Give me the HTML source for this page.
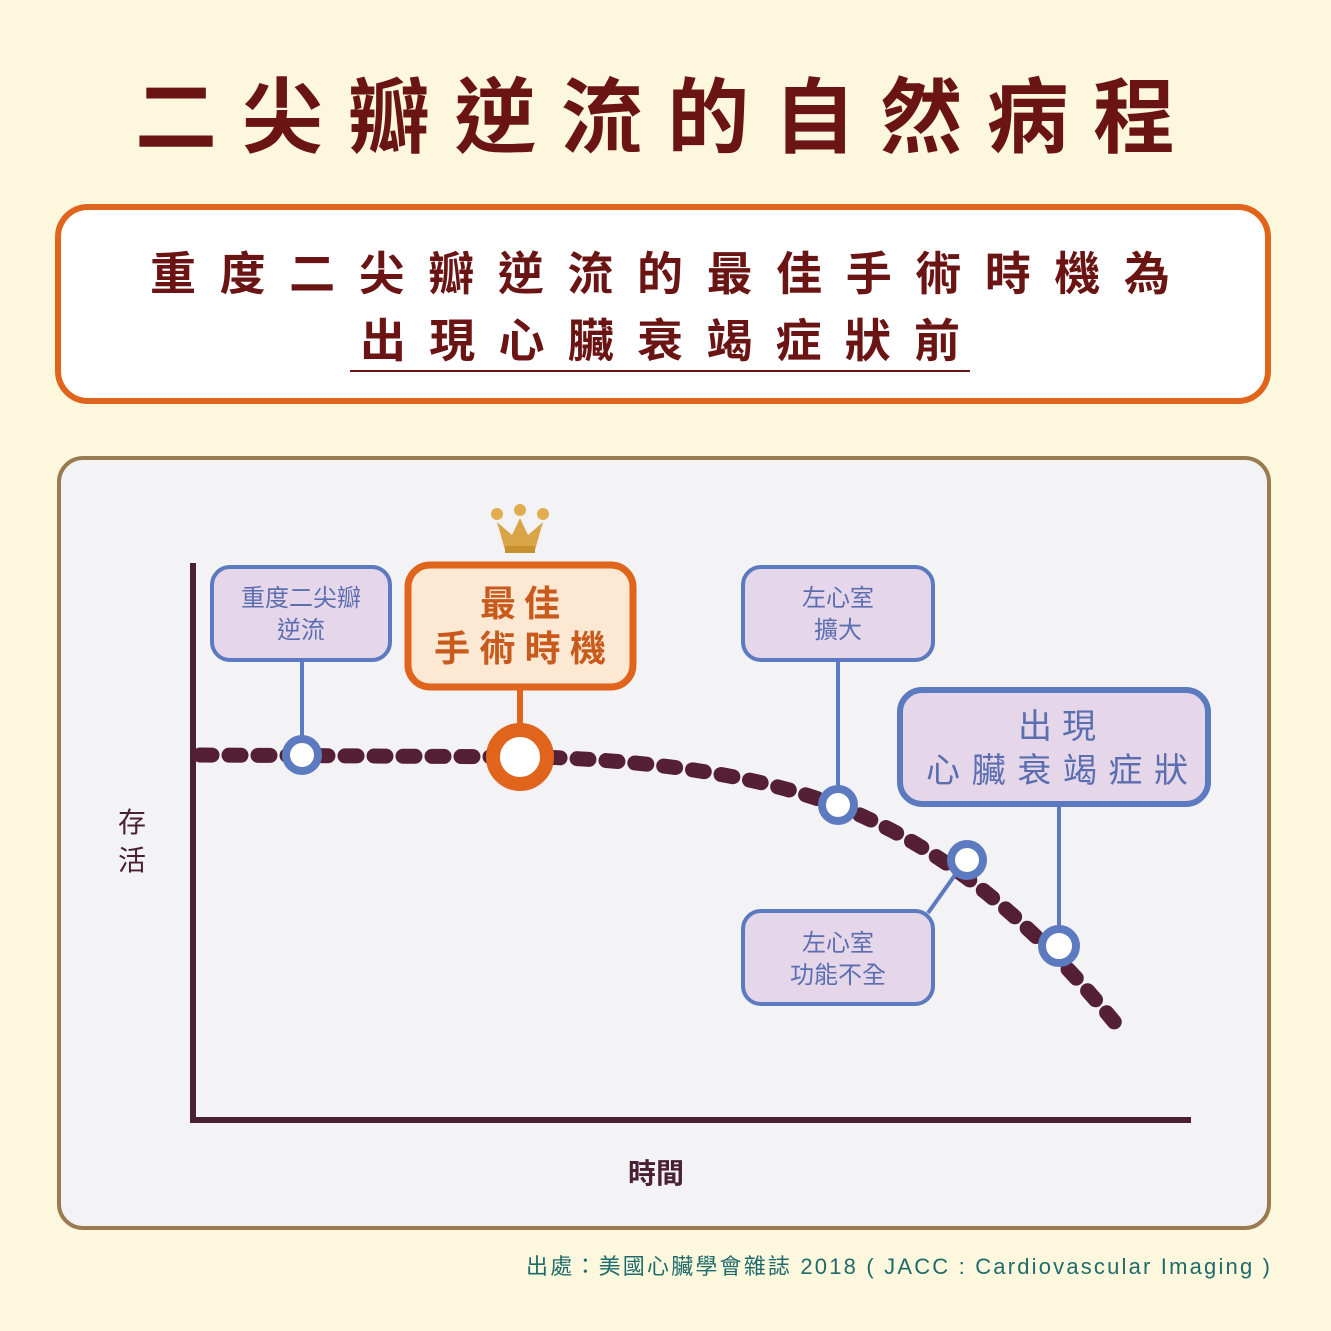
<!DOCTYPE html>
<html><head><meta charset="utf-8"><style>
html,body{margin:0;padding:0;background:#fdf7dd;}
svg{display:block}
text{font-family:"Liberation Sans","Noto Sans CJK TC",sans-serif;}
</style></head><body>
<svg width="1331" height="1331" viewBox="0 0 1331 1331" xmlns="http://www.w3.org/2000/svg">
<rect width="1331" height="1331" fill="#fdf7dd"/>
<text x="655" y="146" text-anchor="middle" font-size="82" font-weight="bold" fill="#6b1414" textLength="1040" lengthAdjust="spacing">二尖瓣逆流的自然病程</text>

<rect x="58" y="207" width="1210" height="194" rx="30" fill="#fff" stroke="#e0641c" stroke-width="6"/>
<text x="660" y="290" text-anchor="middle" font-size="46" font-weight="bold" fill="#6b1414" textLength="1020" lengthAdjust="spacing">重度二尖瓣逆流的最佳手術時機為</text>
<text x="660" y="357" text-anchor="middle" font-size="46" font-weight="bold" fill="#6b1414" textLength="600" lengthAdjust="spacing">出現心臟衰竭症狀前</text>
<line x1="350" y1="371" x2="970" y2="371" stroke="#6b1414" stroke-width="2"/>

<rect x="59" y="458" width="1210" height="770" rx="24" fill="#f3f3f5" stroke="#9a7a50" stroke-width="4"/>

<line x1="193" y1="563" x2="193" y2="1123" stroke="#4a2035" stroke-width="6"/>
<line x1="190" y1="1120" x2="1191" y2="1120" stroke="#4a2035" stroke-width="6"/>
<text x="132" y="832" text-anchor="middle" font-size="28" fill="#4a2035">存</text>
<text x="132" y="870" text-anchor="middle" font-size="28" fill="#4a2035">活</text>
<text x="656" y="1183" text-anchor="middle" font-size="28" font-weight="bold" fill="#4a2035">時間</text>

<path d="M200 755 L540 757 C680 762 780 780 860 815 C960 860 1040 930 1125 1035" fill="none" stroke="#552035" stroke-width="15" stroke-linecap="round" stroke-dasharray="12 17"/>

<!-- box 1 -->
<rect x="212" y="567" width="178" height="93" rx="18" fill="#e6d6ea" stroke="#5b7abf" stroke-width="4"/>
<text x="301" y="606" text-anchor="middle" font-size="24" fill="#5b6fb0">重度二尖瓣</text>
<text x="301" y="638" text-anchor="middle" font-size="24" fill="#5b6fb0">逆流</text>
<line x1="302" y1="660" x2="302" y2="740" stroke="#5b7abf" stroke-width="4"/>
<circle cx="302" cy="755" r="16" fill="#fff" stroke="#5b7abf" stroke-width="8"/>

<!-- crown -->
<g>
<path d="M497 522 L505 550 L535 550 L543 522 L528 535 L520 518 L512 535 Z" fill="#d9a546"/>
<rect x="505" y="546" width="30" height="7" fill="#c8902e"/>
<circle cx="497" cy="514" r="6" fill="#e2ac50"/>
<circle cx="520" cy="510" r="6" fill="#e2ac50"/>
<circle cx="543" cy="514" r="6" fill="#e2ac50"/>
</g>
<!-- orange box -->
<rect x="408" y="565" width="225" height="122" rx="22" fill="#fde8d4" stroke="#e0641c" stroke-width="7"/>
<text x="520" y="616" text-anchor="middle" font-size="36" font-weight="bold" fill="#c85a1c" textLength="80" lengthAdjust="spacing">最佳</text>
<text x="520" y="661" text-anchor="middle" font-size="36" font-weight="bold" fill="#c85a1c" textLength="172" lengthAdjust="spacing">手術時機</text>
<line x1="520" y1="687" x2="520" y2="735" stroke="#e0641c" stroke-width="6"/>
<circle cx="520" cy="757" r="27" fill="#fff" stroke="#e0641c" stroke-width="14"/>

<!-- 左心室擴大 -->
<rect x="743" y="567" width="190" height="93" rx="18" fill="#e6d6ea" stroke="#5b7abf" stroke-width="4"/>
<text x="838" y="606" text-anchor="middle" font-size="24" fill="#5b6fb0">左心室</text>
<text x="838" y="638" text-anchor="middle" font-size="24" fill="#5b6fb0">擴大</text>
<line x1="838" y1="660" x2="838" y2="790" stroke="#5b7abf" stroke-width="4"/>
<circle cx="838" cy="805" r="16" fill="#fff" stroke="#5b7abf" stroke-width="8"/>

<!-- 出現心臟衰竭症狀 -->
<rect x="900" y="690" width="308" height="114" rx="22" fill="#e6d6ea" stroke="#5b7abf" stroke-width="6"/>
<text x="1057" y="738" text-anchor="middle" font-size="34" fill="#5b6fb0" textLength="78" lengthAdjust="spacing">出現</text>
<text x="1057" y="782" text-anchor="middle" font-size="34" fill="#5b6fb0" textLength="262" lengthAdjust="spacing">心臟衰竭症狀</text>
<line x1="1059" y1="804" x2="1059" y2="930" stroke="#5b7abf" stroke-width="4"/>
<circle cx="1059" cy="946" r="17" fill="#fff" stroke="#5b7abf" stroke-width="8"/>

<!-- 左心室功能不全 -->
<line x1="955" y1="875" x2="928" y2="913" stroke="#5b7abf" stroke-width="4"/>
<circle cx="967" cy="860" r="16" fill="#fff" stroke="#5b7abf" stroke-width="8"/>
<rect x="743" y="911" width="190" height="93" rx="18" fill="#e6d6ea" stroke="#5b7abf" stroke-width="4"/>
<text x="838" y="951" text-anchor="middle" font-size="24" fill="#5b6fb0">左心室</text>
<text x="838" y="983" text-anchor="middle" font-size="24" fill="#5b6fb0">功能不全</text>

<text x="526" y="1274" font-size="22" fill="#1f6b6b" textLength="744" lengthAdjust="spacing">出處：美國心臟學會雜誌 2018 ( JACC : Cardiovascular Imaging )</text>
</svg>
</body></html>
